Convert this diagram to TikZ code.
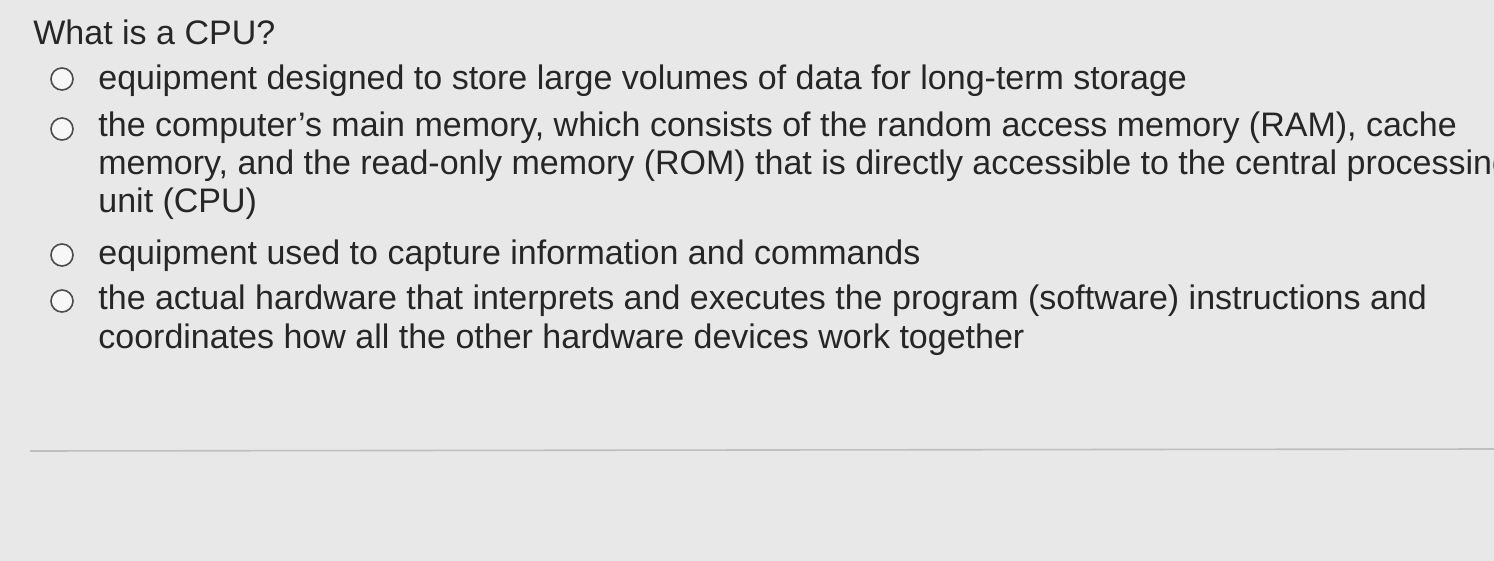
\documentclass[tikz,border=0pt]{standalone}
\usepackage{fontspec}
\setmainfont{Liberation Sans}
\begin{document}
\begin{tikzpicture}[x=0.5pt,y=-0.5pt,
  txt/.style={anchor=base west,inner sep=0pt,font=\fontsize{17}{19}\selectfont,text=black!85},
  opt/.style={draw=black!70,line width=0.8pt,fill=white!97!black,circle,minimum size=11pt,inner sep=0pt}]
\fill[black!9] (0,0) rectangle (1494,561);
\useasboundingbox (0,0) rectangle (1494,561);
\draw[black!25,line width=0.8pt] (30,451) -- (1494,449);
\begin{scope}
\clip (0,0) rectangle (1494,561);
\node[txt] (q) at (33,45) {What is a CPU?};
\node[opt] (c1) at (62,79) {};
\node[txt] (a1) at (98,90) {equipment designed to store large volumes of data for long-term storage};
\node[opt] (c2) at (62,129) {};
\node[txt] (a2) at (98,137) {the computer’s main memory, which consists of the random access memory (RAM), cache};
\node[txt] (a2b) at (98,175) {memory, and the read-only memory (ROM) that is directly accessible to the central processing};
\node[txt] (a2c) at (98,213) {unit (CPU)};
\node[opt] (c3) at (62,255) {};
\node[txt] (a3) at (98,265) {equipment used to capture information and commands};
\node[opt] (c4) at (62,301) {};
\node[txt] (a4) at (98,310) {the actual hardware that interprets and executes the program (software) instructions and};
\node[txt] (a4b) at (98,349) {coordinates how all the other hardware devices work together};
\end{scope}
\end{tikzpicture}
\end{document}
